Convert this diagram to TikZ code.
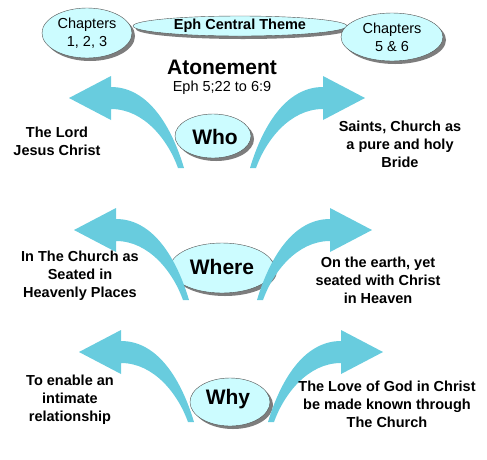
\documentclass[tikz,border=0pt]{standalone}
\usepackage{fontspec}
\setmainfont{Liberation Sans}
\usetikzlibrary{shapes.geometric,shadows}
\definecolor{arrowcyan}{RGB}{104,204,222}
\definecolor{bubblefill}{RGB}{204,252,255}
\definecolor{bubbleline}{RGB}{80,80,80}
\definecolor{shadowgray}{RGB}{125,125,125}
\newcommand{\sidefont}{\fontsize{14.5}{18}\selectfont\bfseries}
\newcommand{\bigfont}{\fontsize{21}{24}\selectfont\bfseries}
\newcommand{\capfont}{\fontsize{14.5}{18}\selectfont}
\tikzset{
  bubble/.style={ellipse,draw=bubbleline,fill=bubblefill,inner sep=0pt,
    drop shadow={shadow xshift=3pt,shadow yshift=-3pt,fill=shadowgray,opacity=1}},
  sidetext/.style={align=center,font=\sidefont,inner sep=0pt},
  bentarrow/.pic={
    \fill[arrowcyan] (0,0) .. controls (12,-40) and (35,-81) .. (73,-81)
      -- (73,-92) -- (115,-70) -- (73,-48) -- (73,-59)
      .. controls (40,-59) and (16,-28) .. (6,0) -- cycle;
  }
}

\begin{document}
\begin{tikzpicture}[x=1pt,y=-1pt]
  \useasboundingbox (0,0) rectangle (487,459);

  % central theme
  \node[bubble,minimum width=214pt,minimum height=20pt,font=\capfont\bfseries]
    (theme) at (240,26) {Eph Central Theme};
  \node[bubble,minimum width=90pt,minimum height=50pt,align=center,font=\capfont]
    (chleft) at (87,33) {Chapters\\1, 2, 3};
  \node[bubble,minimum width=102pt,minimum height=48pt,align=center,font=\capfont]
    (chright) at (392,37) {Chapters\\5 \& 6};
  \node[font=\bigfont] (atone) at (222,67) {Atonement};
  \node[font=\capfont] (ref) at (222,88) {Eph 5;22 to 6:9};

  % --- who ---
  \node[bubble,minimum width=76pt,minimum height=44pt] (who) at (213,136) {};
  \pic[xscale=-1] at (184,168) {bentarrow};
  \pic at (250,168) {bentarrow};
  \node[font=\bigfont] (whotxt) at (215,137) {Who};
  \node[sidetext] (wholeft) at (57,141) {The Lord\\Jesus Christ};
  \node[sidetext] (whoright) at (400,144) {Saints, Church as\\a pure and holy\\Bride};

  % --- where ---
  \node[bubble,minimum width=104pt,minimum height=50pt] (where) at (222,268) {};
  \pic[xscale=-1] at (189,300) {bentarrow};
  \pic at (257,300) {bentarrow};
  \node[font=\bigfont] (wheretxt) at (222,267) {Where};
  \node[sidetext] (whereleft) at (80,276) {In The Church as\\Seated in\\Heavenly Places};
  \node[sidetext] (whereright) at (378,280) {On the earth, yet\\seated with Christ\\in Heaven};

  % --- why ---
  \node[bubble,minimum width=80pt,minimum height=48pt] (why) at (230,402) {};
  \pic[xscale=-1] at (194,422) {bentarrow};
  \pic at (268,422) {bentarrow};
  \node[font=\bigfont] (whytxt) at (228,399) {Why};
  \node[sidetext] (whyleft) at (70,400) {To enable an\\intimate\\relationship};
  \node[sidetext] (whyright) at (387,404) {The Love of God in Christ\\be made known through\\The Church};
\end{tikzpicture}
\end{document}
